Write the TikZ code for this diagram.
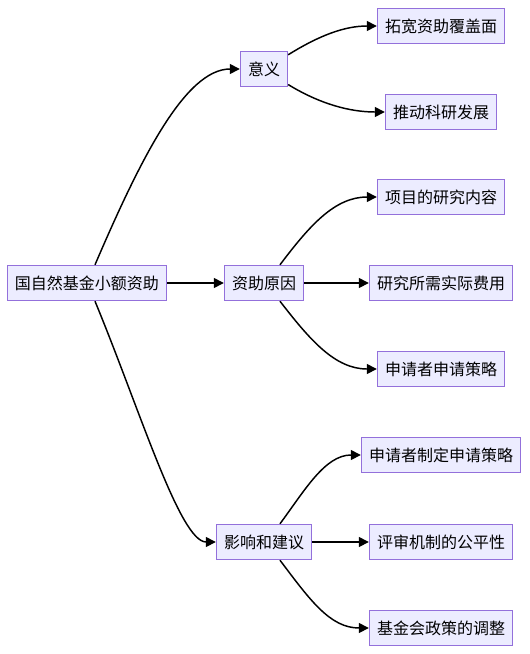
\documentclass[tikz,border=0pt]{standalone}
\usepackage{fontspec}
\setmainfont{Noto Sans CJK SC}
\usepackage{xcolor}
\usetikzlibrary{arrows.meta,positioning}
\definecolor{nodefill}{HTML}{ECECFF}
\definecolor{nodeline}{HTML}{9370DB}

\begin{document}
\begin{tikzpicture}[
  x=0.75pt, y=-0.75pt,
  every node/.style={font=\fontsize{12pt}{14pt}\selectfont},
  box/.style={draw=nodeline, line width=1.1pt, fill=nodefill,
              minimum height=26.25pt, inner xsep=5.6pt, inner ysep=0pt},
  ar/.style ={-{Triangle[length=7.5pt, width=7.5pt]}, line width=1.1pt, draw=black}
]
  \useasboundingbox (0,0) rectangle (529,654);
  % root and second level
  \node[box] (root) at (87,283)  {国自然基金小额资助};
  \node[box] (yy)   at (264,69)  {意义};
  \node[box] (yy1)  at (441,26)  {拓宽资助覆盖面};
  \node[box] (yy2)  at (441,112) {推动科研发展};
  \node[box] (zy)   at (264,283) {资助原因};
  \node[box] (zy1)  at (441,197) {项目的研究内容};
  \node[box] (zy2)  at (441,283) {研究所需实际费用};
  \node[box] (zy3)  at (441,369) {申请者申请策略};
  \node[box] (yx)   at (264,542) {影响和建议};
  \node[box] (yx1)  at (441,455) {申请者制定申请策略};
  \node[box] (yx2)  at (441,542) {评审机制的公平性};
  \node[box] (yx3)  at (441,628) {基金会政策的调整};
  % edges from root
  \draw[ar] ([xshift=6pt]root.north) .. controls (140,160) and (185,69) .. (yy.west);
  \draw[ar] (root) -- (zy);
  \draw[ar] ([xshift=6pt]root.south) .. controls (140,410) and (180,542) .. (yx.west);
  % edges to leaves
  \draw[ar] ([yshift=-3pt]yy.north east) .. controls (320,35) and (345,26) .. (yy1.west);
  \draw[ar] ([yshift=2pt]yy.south east) .. controls (320,104) and (350,112) .. (yy2.west);
  \draw[ar] ([xshift=12pt]zy.north) .. controls (310,225) and (335,197) .. (zy1.west);
  \draw[ar] (zy) -- (zy2);
  \draw[ar] ([xshift=12pt]zy.south) .. controls (310,340) and (335,369) .. (zy3.west);
  \draw[ar] ([xshift=12pt]yx.north) .. controls (305,490) and (325,455) .. (yx1.west);
  \draw[ar] (yx) -- (yx2);
  \draw[ar] ([xshift=12pt]yx.south) .. controls (310,600) and (330,628) .. (yx3.west);
\end{tikzpicture}
\end{document}
